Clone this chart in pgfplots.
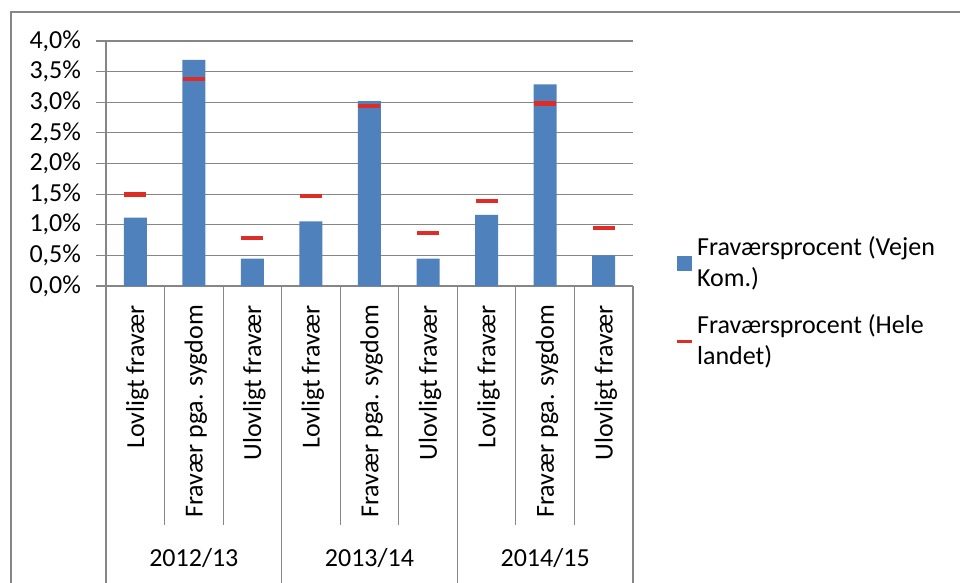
\documentclass[border=0pt]{standalone}
\usepackage{pgfplots}
\pgfplotsset{compat=1.18}
\usepackage{fontspec}
\setmainfont{Carlito}
\definecolor{barblue}{RGB}{79,129,189}
\definecolor{dashred}{RGB}{222,45,38}
\definecolor{gridgray}{RGB}{134,134,134}
\newcommand\cf{\fontsize{13pt}{15.5pt}\selectfont}
\begin{document}
\cf
\begin{tikzpicture}
\useasboundingbox (0pt,0pt) rectangle (480pt,-291.5pt);
\draw[gridgray, line width=1pt] (5.5pt,-300pt) -- (5.5pt,-6pt) -- (490pt,-6pt);
\begin{axis}[
  at={(53pt,-143pt)}, anchor=south west,
  width=263.5pt, height=122.5pt, scale only axis,
  xmin=0.5, xmax=9.5, ymin=0, ymax=4,
  axis x line*=bottom, axis y line*=left,
  axis line style={-, draw=gridgray, line width=0.6pt},
  ytick={0,0.5,...,4},
  ymajorgrids, grid style={gridgray, line width=0.6pt},
  ytick style={gridgray, line width=0.6pt},
  tick align=outside, major tick length=5pt,
  yticklabel={\pgfmathprintnumber[fixed,fixed zerofill,precision=1,use comma]{\tick}\%},
  /pgf/number format/assume math mode=true,
  y tick label style={font=\cf, xshift=-3pt},
  xtick={1,...,9},
  xticklabels={Lovligt fravær, Fravær pga. sygdom, Ulovligt fravær, Lovligt fravær, Fravær pga. sygdom, Ulovligt fravær, Lovligt fravær, Fravær pga. sygdom, Ulovligt fravær},
  x tick label style={font=\cf, rotate=90, anchor=east, yshift=-1pt},
  xtick style={draw=none},
  clip=false,
  legend style={at={(1.08,0.22)}, anchor=north west, draw=none, fill=none, font=\cf, row sep=8pt, cells={align=left}, inner sep=0pt},
  legend cell align=left,
]
\addplot[ybar, bar width=11.5pt, fill=barblue, draw=none,
  legend image code/.code={\fill[barblue] (0pt,-3.75pt) rectangle (7.5pt,3.75pt);}]
  coordinates {(1,1.115) (2,3.69) (3,0.446) (4,1.056) (5,3.02) (6,0.446) (7,1.16) (8,3.29) (9,0.50)};
\addlegendentry{Fraværsprocent (Vejen\\Kom.)}
\addplot[only marks, mark=-, mark size=5.5pt, mark options={line width=2.2pt, draw=dashred},
  legend image code/.code={\draw[dashred, line width=1.3pt] (0pt,0pt) -- (7.5pt,0pt);}]
  coordinates {(1,1.497) (2,3.38) (3,0.78) (4,1.474) (5,2.94) (6,0.865) (7,1.39) (8,2.98) (9,0.95)};
\addlegendentry{Fraværsprocent (Hele\\landet)}
\pgfplotsinvokeforeach{1.5,2.5,4.5,5.5,7.5,8.5}{
  \draw[gridgray, line width=0.6pt] (axis cs:#1,0) -- ++(0pt,-119.5pt);
}
\pgfplotsinvokeforeach{0.5,3.5,6.5,9.5}{
  \draw[gridgray, line width=0.6pt] (axis cs:#1,0) -- ++(0pt,-150pt);
}
\node[font=\cf] at ([yshift=-136pt]axis cs:2,0) {2012/13};
\node[font=\cf] at ([yshift=-136pt]axis cs:5,0) {2013/14};
\node[font=\cf] at ([yshift=-136pt]axis cs:8,0) {2014/15};
\end{axis}
\end{tikzpicture}
\end{document}
